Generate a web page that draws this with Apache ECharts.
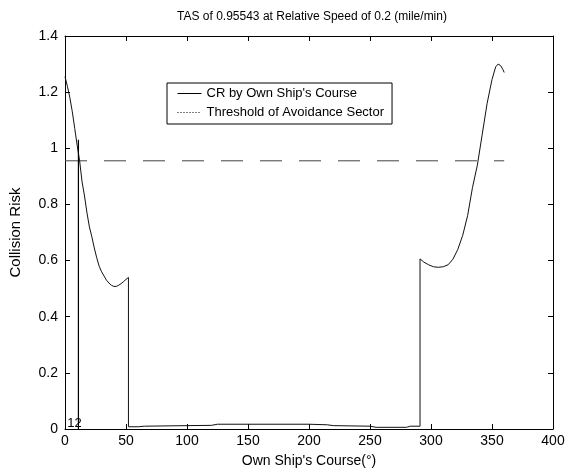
<!DOCTYPE html>
<html>
<head>
<meta charset="utf-8">
<script src="https://cdn.jsdelivr.net/npm/echarts@6/dist/echarts.min.js"></script>
<style>html,body{margin:0;padding:0;background:#fff}#c{width:584px;height:473px}</style>
</head>
<body>
<div id="c"></div>
<script>
// Own ship's course (deg) and collision risk
const courseDeg = [0,2,4,6,8,10,12,14,16,18,20,22,24,26,28,30,32,34,36,38,40,42,44,46,48,50,52,
  52,60,65,100,120,125,200,215,220,250,255,280,283,291,
  291,294,298,302,306,310,314,318,322,326,330,334,338,342,346,350,353,355,357,359,360];
const crValues = [1.255,1.22,1.18,1.13,1.07,1.01,0.955,0.88,0.83,0.77,0.72,0.685,0.645,0.61,0.58,0.56,0.545,0.53,0.52,0.512,0.508,0.508,0.512,0.518,0.525,0.533,0.54,
  0.008,0.008,0.01,0.012,0.013,0.017,0.017,0.015,0.012,0.01,0.006,0.006,0.01,0.01,
  0.606,0.595,0.585,0.578,0.576,0.578,0.585,0.605,0.64,0.69,0.76,0.86,0.94,1.05,1.16,1.245,1.29,1.30,1.295,1.28,1.27];
const thresholdValue = 0.95543;
const thresholdRange = [0, 360];
const crossingLabel = '12';
const crossingLineCourse = 11;
const crossingMarkTop = 1.03;
const xTicks = {min: 0, max: 400, interval: 50};
const yTicks = {min: 0, max: 1.4, interval: 0.2};
const seriesNames = ["CR by Own Ship's Course", "Threshold of Avoidance Sector"];

const FONT = 'Liberation Sans, Arial, Helvetica, sans-serif';
const crData = courseDeg.map((c, i) => [c, crValues[i]]);
const thrData = thresholdRange.map(c => [c, thresholdValue]);
const markData = [[crossingLineCourse, 0], [crossingLineCourse, crossingMarkTop]];

const chart = echarts.init(document.getElementById('c'), null, {renderer: 'canvas'});
const axisCommon = {
  axisLine: {show: true, onZero: false, lineStyle: {color: '#000', width: 1}},
  axisTick: {show: true, inside: true, length: 5, lineStyle: {color: '#000'}},
  splitLine: {show: false}
};
chart.setOption({
  animation: false,
  backgroundColor: '#fff',
  title: {
    text: 'TAS of 0.95543 at Relative Speed of 0.2 (mile/min)',
    left: 307, top: 6, textAlign: 'center',
    textStyle: {fontFamily: FONT, fontSize: 12, fontWeight: 'normal', color: '#000'}
  },
  legend: {
    orient: 'vertical', left: 167, top: 83,
    backgroundColor: '#fff',
    borderColor: '#000', borderWidth: 1, borderRadius: 0,
    padding: [4, 8, 5, 10],
    itemWidth: 24, itemHeight: 14, itemGap: 6,
    itemStyle: {color: 'rgba(0,0,0,0)', borderColor: 'rgba(0,0,0,0)', borderWidth: 0, opacity: 0},
    textStyle: {fontFamily: FONT, fontSize: 13, color: '#000'},
    data: [
      {name: seriesNames[0], lineStyle: {type: 'solid', color: '#000', width: 1}},
      {name: seriesNames[1], lineStyle: {type: [1, 2], color: '#000', width: 1}}
    ]
  },
  grid: {left: 62, right: 31, top: 36, bottom: 44, containLabel: false},
  xAxis: [
    Object.assign({}, axisCommon, {
      type: 'value', position: 'bottom', min: xTicks.min, max: xTicks.max, interval: xTicks.interval,
      name: "Own Ship's Course(°)", nameLocation: 'middle', nameGap: 25,
      nameTextStyle: {fontFamily: FONT, fontSize: 14, color: '#000'},
      axisLabel: {fontFamily: FONT, fontSize: 14, color: '#000', margin: 5}
    }),
    Object.assign({}, axisCommon, {
      type: 'value', position: 'top', min: xTicks.min, max: xTicks.max, interval: xTicks.interval,
      axisLabel: {show: false}
    })
  ],
  yAxis: [
    Object.assign({}, axisCommon, {
      type: 'value', position: 'left', min: yTicks.min, max: yTicks.max, interval: yTicks.interval,
      name: 'Collision Risk', nameLocation: 'middle', nameGap: 42, nameRotate: 90,
      nameTextStyle: {fontFamily: FONT, fontSize: 15, color: '#000'},
      axisLabel: {fontFamily: FONT, fontSize: 14, color: '#000', margin: 7}
    }),
    Object.assign({}, axisCommon, {
      type: 'value', position: 'right', min: yTicks.min, max: yTicks.max, interval: yTicks.interval,
      axisLabel: {show: false}
    })
  ],
  series: [
    {
      name: seriesNames[0], type: 'line', data: crData, showSymbol: false, symbol: 'none',
      lineStyle: {color: '#111', width: 1, type: 'solid'}, itemStyle: {color: '#111'}, z: 3
    },
    {
      name: seriesNames[1], type: 'line', data: thrData, showSymbol: false, symbol: 'none',
      lineStyle: {color: '#444', width: 1, type: [22, 17]}, itemStyle: {color: '#444'}, z: 2
    },
    {
      name: 'crossing', type: 'line', symbol: 'none', showSymbol: false,
      lineStyle: {color: '#000', width: 1.2},
      data: markData,
      markPoint: {
        symbol: 'circle', symbolSize: 1, itemStyle: {color: 'rgba(0,0,0,0)'},
        label: {show: true, position: 'top', distance: 0, offset: [-4, 1], formatter: crossingLabel,
          fontFamily: FONT, fontSize: 13, color: '#000'},
        data: [{coord: [crossingLineCourse, 0]}]
      },
      z: 3
    }
  ]
});
</script>
</body>
</html>
